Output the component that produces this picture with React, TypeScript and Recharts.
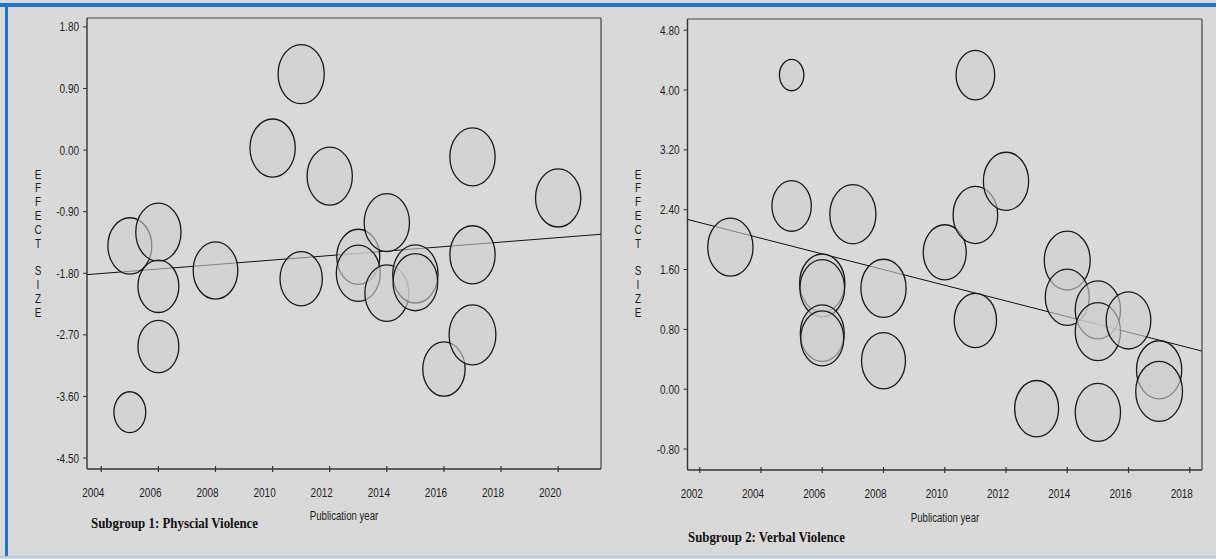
import React from 'react';
import { ScatterChart, Scatter, XAxis, YAxis, ZAxis, ReferenceLine } from 'recharts';

// Subgroup 1: physical violence — one entry per study
const physicalYears = [2005, 2006, 2006, 2006, 2005, 2008, 2010, 2011, 2012, 2011, 2013, 2013, 2014, 2014, 2015, 2015, 2016, 2017, 2017, 2017, 2020];
const physicalEffects = [-1.4, -1.2, -1.99, -2.87, -3.83, -1.76, 0.03, 1.11, -0.38, -1.88, -1.56, -1.8, -1.06, -2.09, -1.81, -1.93, -3.2, -0.1, -1.53, -2.7, -0.7];
const physicalWeights = [0.97, 1.03, 0.84, 0.84, 0.51, 1.0, 1.03, 1.07, 1.03, 0.9, 0.93, 0.97, 1.03, 0.97, 1.03, 1.0, 0.9, 1.03, 1.03, 1.1, 1.03];

// Subgroup 2: verbal violence
const verbalYears = [2003, 2005, 2005, 2007, 2006, 2006, 2006, 2006, 2008, 2008, 2010, 2011, 2011, 2012, 2011, 2013, 2014, 2014, 2015, 2015, 2015, 2016, 2017, 2017];
const verbalEffects = [1.9, 4.2, 2.45, 2.34, 1.42, 1.35, 0.75, 0.68, 1.35, 0.38, 1.83, 4.2, 2.33, 2.78, 0.92, -0.26, 1.72, 1.23, 1.06, 0.77, -0.31, 0.92, 0.26, -0.03];
const verbalWeights = [1.03, 0.3, 0.78, 1.07, 1.03, 1.0, 0.97, 0.93, 1.03, 0.97, 0.93, 0.75, 1.0, 1.03, 0.9, 0.97, 1.06, 0.97, 1.03, 1.03, 1.03, 1.0, 1.03, 1.1];

// Meta-regression lines (effect size at both ends of the year range)
const physicalFitYears = [2003.5, 2021.5];
const physicalFitEffects = [-1.82, -1.23];
const verbalFitYears = [2001.6, 2018.4];
const verbalFitEffects = [2.27, 0.51];

// Axes
const physicalXDomain = [2003.5, 2021.5];
const physicalYDomain = [-4.66, 1.93];
const physicalXTicks = [2004, 2006, 2008, 2010, 2012, 2014, 2016, 2018, 2020];
const physicalYTicks = [1.8, 0.9, 0, -0.9, -1.8, -2.7, -3.6, -4.5];
const verbalXDomain = [2001.6, 2018.4];
const verbalYDomain = [-1.08, 4.95];
const verbalXTicks = [2002, 2004, 2006, 2008, 2010, 2012, 2014, 2016, 2018];
const verbalYTicks = [4.8, 4.0, 3.2, 2.4, 1.6, 0.8, 0, -0.8];

const axisLetters = ['E', 'F', 'F', 'E', 'C', 'T', '', 'S', 'I', 'Z', 'E'];

type Row = { year: number; es: number; w: number };

const toRows = (years: number[], effects: number[], weights?: number[]): Row[] =>
  years.map((year, i) => ({ year, es: effects[i], w: weights ? weights[i] : 0 }));

const SANS = '"Liberation Sans", Arial, sans-serif';
const SERIF = '"Liberation Serif", "Times New Roman", serif';
const BG = '#d9d9d9';
const INK = '#1e1e1e';
const NARROW = 0.8; // horizontal squeeze applied to the sans labels
const Y_AXIS_W = 40;
const X_AXIS_H = 40;

// Narrow sans-serif label anchored at (x, y)
const NarrowText = ({ x, y, anchor, size, children }: any) => (
  <text
    transform={`translate(${x},${y}) scale(${NARROW},1)`}
    x={0}
    y={0}
    dy="0.36em"
    textAnchor={anchor}
    fontSize={size}
    fill={INK}
    fontFamily={SANS}
  >
    {children}
  </text>
);

// Study marker: an ellipse sized by study weight
const Bubble = (props: any) => {
  const { cx, cy, width } = props;
  if (cx == null || cy == null) return <g />;
  const d = width || 0;
  return (
    <ellipse
      cx={cx}
      cy={cy}
      rx={d * 0.39}
      ry={d / 2}
      fill="#cfcfcf"
      fillOpacity={0.6}
      stroke="#1a1a1a"
      strokeWidth={1.3}
    />
  );
};

const NoMarker = () => <g />;

const XTick = (props: any) => {
  const { x, y, payload } = props;
  return (
    <g>
      <line x1={x} x2={x} y1={y - 3} y2={y + 3} stroke="#333" strokeWidth={1.2} />
      <NarrowText x={x - 8} y={y + 23} anchor="middle" size={12.5}>
        {payload.value}
      </NarrowText>
    </g>
  );
};

const YTick = (props: any) => {
  const { x, y, payload } = props;
  return (
    <NarrowText x={x} y={y} anchor="end" size={12.5}>
      {Number(payload.value).toFixed(2)}
    </NarrowText>
  );
};

type PanelProps = {
  left: number;
  width: number;
  margin: { top: number; right: number; bottom: number; left: number };
  xDomain: number[];
  yDomain: number[];
  xTicks: number[];
  yTicks: number[];
  studies: Row[];
  fit: Row[];
};

function Panel({ left, width, margin, xDomain, yDomain, xTicks, yTicks, studies, fit }: PanelProps) {
  // axes reserve their own band, so take it out of the outer margin
  const m = {
    top: margin.top,
    right: margin.right,
    bottom: margin.bottom - X_AXIS_H,
    left: margin.left - Y_AXIS_W,
  };
  return (
    <div style={{ position: 'absolute', left, top: 0 }}>
      <ScatterChart width={width} height={559} margin={m}>
        <XAxis
          type="number"
          dataKey="year"
          domain={xDomain}
          ticks={xTicks}
          allowDataOverflow
          interval={0}
          height={X_AXIS_H}
          tickSize={0}
          tickMargin={0}
          tickLine={false}
          axisLine={{ stroke: '#333', strokeWidth: 1.4 }}
          tick={<XTick />}
        />
        <YAxis
          type="number"
          dataKey="es"
          domain={yDomain}
          ticks={yTicks}
          allowDataOverflow
          interval={0}
          width={Y_AXIS_W}
          tickSize={4}
          tickMargin={4}
          tickLine={{ stroke: '#333', strokeWidth: 1 }}
          axisLine={{ stroke: '#333', strokeWidth: 1.4 }}
          tick={<YTick />}
        />
        <ZAxis type="number" dataKey="w" domain={[0, 1]} range={[0, 2827]} />
        <ReferenceLine y={yDomain[1]} stroke="#444" strokeWidth={1.2} />
        <ReferenceLine x={xDomain[1]} stroke="#444" strokeWidth={1.2} />
        <Scatter
          data={fit}
          line={{ stroke: '#111', strokeWidth: 1 }}
          shape={NoMarker}
          isAnimationActive={false}
        />
        <Scatter data={studies} shape={Bubble} isAnimationActive={false} />
      </ScatterChart>
    </div>
  );
}

const StackedLabel = ({ x }: { x: number }) => (
  <g>
    {axisLetters.map((ch, i) => (
      <NarrowText key={i} x={x} y={174 + i * 13.8} anchor="middle" size={12.5}>
        {ch}
      </NarrowText>
    ))}
  </g>
);

export default function App() {
  const physicalStudies = toRows(physicalYears, physicalEffects, physicalWeights);
  const verbalStudies = toRows(verbalYears, verbalEffects, verbalWeights);
  const physicalFit = toRows(physicalFitYears, physicalFitEffects);
  const verbalFit = toRows(verbalFitYears, verbalFitEffects);

  return (
    <div
      style={{
        position: 'absolute',
        left: 0,
        top: 0,
        width: 1216,
        height: 559,
        background: BG,
        overflow: 'hidden',
      }}
    >
      <Panel
        left={0}
        width={610}
        margin={{ top: 18, right: 9, bottom: 90, left: 87 }}
        xDomain={physicalXDomain}
        yDomain={physicalYDomain}
        xTicks={physicalXTicks}
        yTicks={physicalYTicks}
        studies={physicalStudies}
        fit={physicalFit}
      />
      <Panel
        left={610}
        width={606}
        margin={{ top: 19, right: 14, bottom: 89, left: 77.5 }}
        xDomain={verbalXDomain}
        yDomain={verbalYDomain}
        xTicks={verbalXTicks}
        yTicks={verbalYTicks}
        studies={verbalStudies}
        fit={verbalFit}
      />
      <svg
        width={1216}
        height={559}
        style={{ position: 'absolute', left: 0, top: 0, pointerEvents: 'none' }}
      >
        {/* frame around the figure */}
        <rect x={0} y={3} width={1216} height={4} fill="#1f76c6" />
        <rect x={5} y={3} width={3} height={554} fill="#1f76c6" />
        <rect x={0} y={556} width={1216} height={1.5} fill="#a8c9e6" />

        <StackedLabel x={38} />
        <StackedLabel x={638} />

        <text x={344} y={519.5} textAnchor="middle" fontSize={13} fill={INK} fontFamily={SANS} textLength={68.5} lengthAdjust="spacingAndGlyphs">
          Publication year
        </text>
        <text x={945} y={521.5} textAnchor="middle" fontSize={13} fill={INK} fontFamily={SANS} textLength={68.5} lengthAdjust="spacingAndGlyphs">
          Publication year
        </text>

        <text x={91} y={527.5} fontSize={14.5} fontWeight="bold" fill="#111" fontFamily={SERIF} textLength={167} lengthAdjust="spacingAndGlyphs">
          Subgroup 1: Physcial Violence
        </text>
        <text x={688} y={542} fontSize={15} fontWeight="bold" fill="#111" fontFamily={SERIF} textLength={157} lengthAdjust="spacingAndGlyphs">
          Subgroup 2: Verbal Violence
        </text>
      </svg>
    </div>
  );
}
